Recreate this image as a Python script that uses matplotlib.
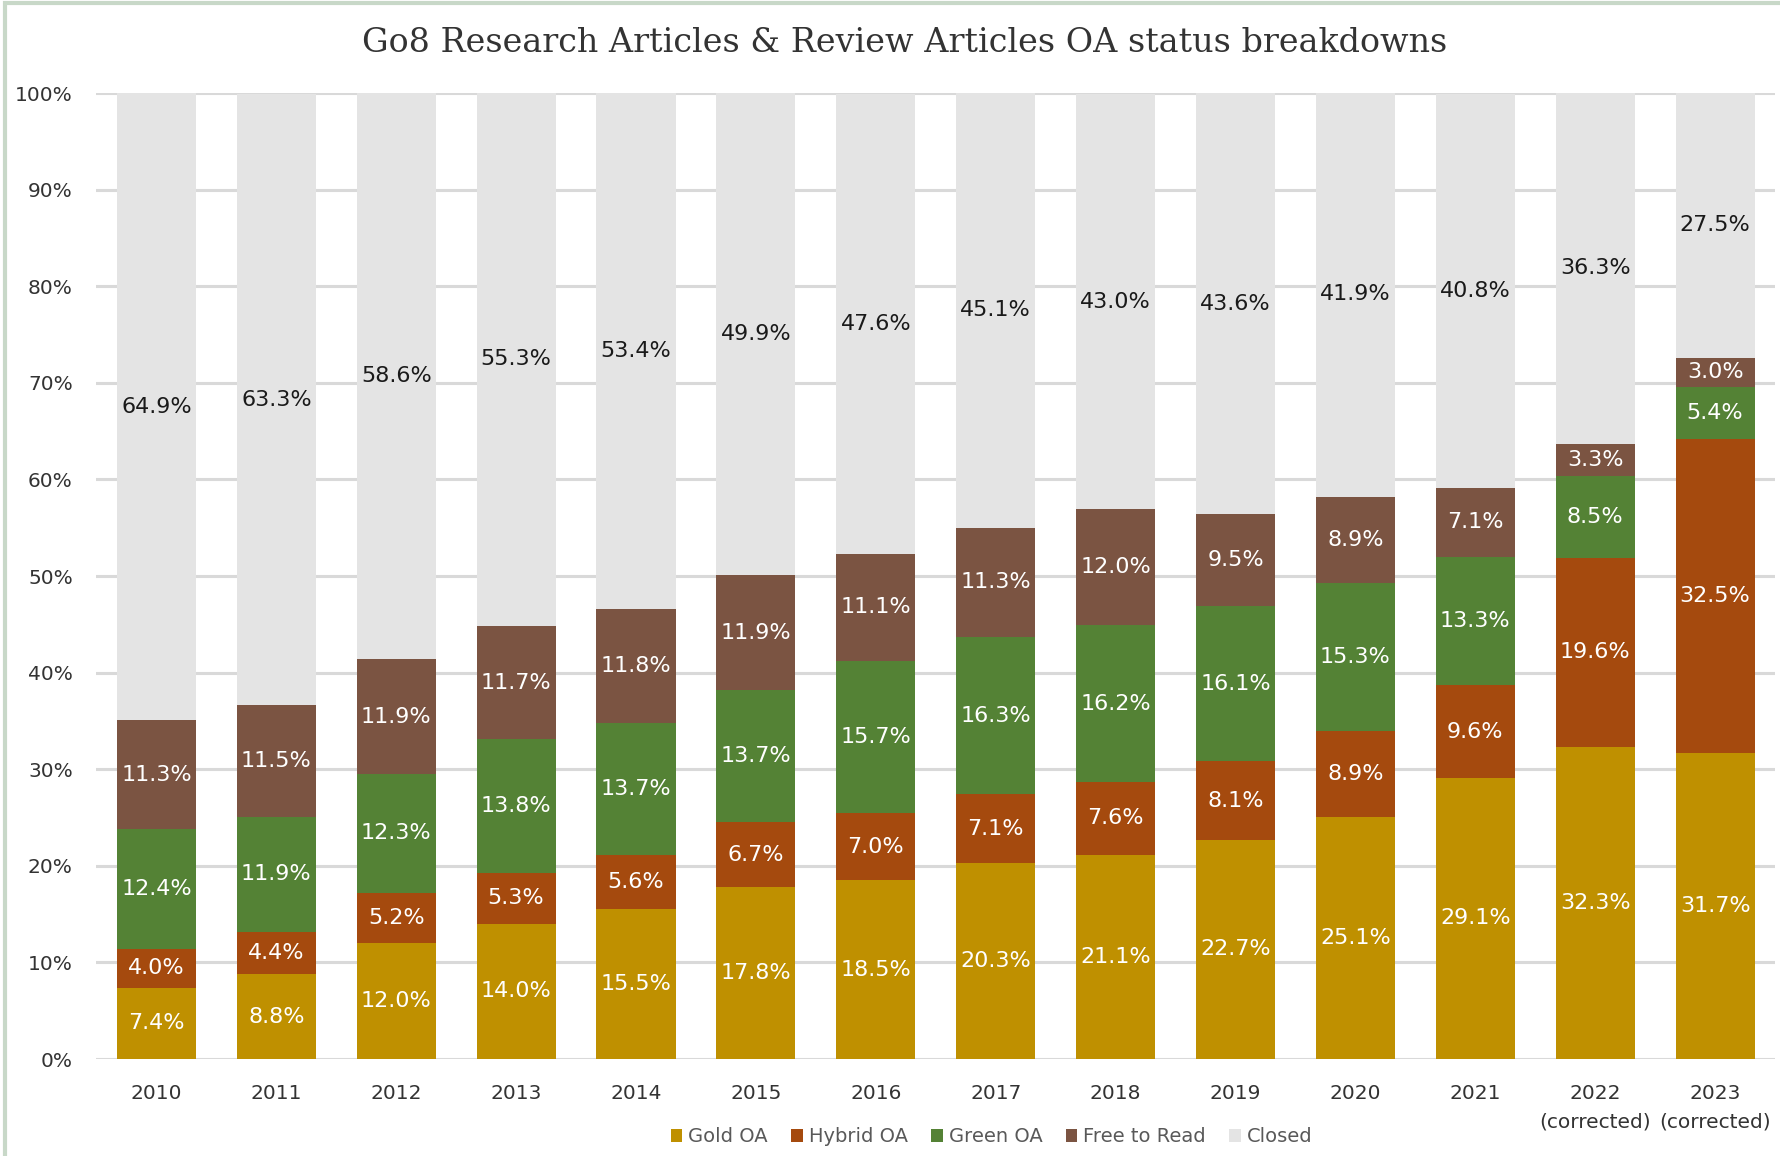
import matplotlib.pyplot as plt
from matplotlib.patches import Rectangle

years = ["2010", "2011", "2012", "2013", "2014", "2015", "2016", "2017",
         "2018", "2019", "2020", "2021", "2022\n(corrected)", "2023\n(corrected)"]
gold = [7.4, 8.8, 12.0, 14.0, 15.5, 17.8, 18.5, 20.3, 21.1, 22.7, 25.1, 29.1, 32.3, 31.7]
hybrid = [4.0, 4.4, 5.2, 5.3, 5.6, 6.7, 7.0, 7.1, 7.6, 8.1, 8.9, 9.6, 19.6, 32.5]
green = [12.4, 11.9, 12.3, 13.8, 13.7, 13.7, 15.7, 16.3, 16.2, 16.1, 15.3, 13.3, 8.5, 5.4]
free_read = [11.3, 11.5, 11.9, 11.7, 11.8, 11.9, 11.1, 11.3, 12.0, 9.5, 8.9, 7.1, 3.3, 3.0]
closed = [64.9, 63.3, 58.6, 55.3, 53.4, 49.9, 47.6, 45.1, 43.0, 43.6, 41.9, 40.8, 36.3, 27.5]

series = [("Gold OA", gold, "#BF9000", "white"),
          ("Hybrid OA", hybrid, "#A54A0E", "white"),
          ("Green OA", green, "#548235", "white"),
          ("Free to Read", free_read, "#7B5442", "white"),
          ("Closed", closed, "#E4E4E4", "#1a1a1a")]

fig = plt.figure(figsize=(17.8, 11.56), dpi=100)
ax = fig.add_axes([0.0542, 0.0839, 0.943, 0.8356])

x = list(range(len(years)))
bottom = [0.0] * len(years)
for name, vals, col, tcol in series:
    ax.bar(x, vals, width=0.66, bottom=bottom, color=col, label=name, zorder=2)
    for i, v in enumerate(vals):
        ax.text(i, bottom[i] + v / 2, f"{v:.1f}%", ha="center", va="center",
                color=tcol, fontsize=16, zorder=3)
    bottom = [b + v for b, v in zip(bottom, vals)]

ax.set_xlim(-0.5, len(years) - 0.5)
ax.set_ylim(0, 100)
ax.set_yticks(range(0, 101, 10))
ax.set_yticklabels([f"{t}%" for t in range(0, 101, 10)])
ax.set_xticks(x)
ax.set_xticklabels(years, linespacing=1.6)
ax.yaxis.grid(True, color="#D9D9D9", linewidth=2.2, zorder=0)
ax.set_axisbelow(True)
for s in ax.spines.values():
    s.set_visible(False)
ax.tick_params(axis="both", length=0, labelsize=14.5, colors="#333333")
ax.tick_params(axis="y", pad=17)
ax.tick_params(axis="x", pad=18)

fig.text(0.508, 0.963, "Go8 Research Articles & Review Articles OA status breakdowns",
         ha="center", va="center", fontsize=24, family="DejaVu Serif", color="#333333")

handles, labels = ax.get_legend_handles_labels()
fig.legend(handles, labels, loc="center", bbox_to_anchor=(0.557, 0.0165), ncol=5,
           frameon=False, fontsize=14, labelcolor="#595959", handlelength=0.6,
           handleheight=0.6, handletextpad=0.3, columnspacing=1.2)

fig.patches.append(Rectangle((0.003, -0.01), 1.1, 0.0075 + 1.0, transform=fig.transFigure,
                             fill=False, edgecolor="#C8D8C8", linewidth=3))

fig.savefig("out.png", dpi=100)
